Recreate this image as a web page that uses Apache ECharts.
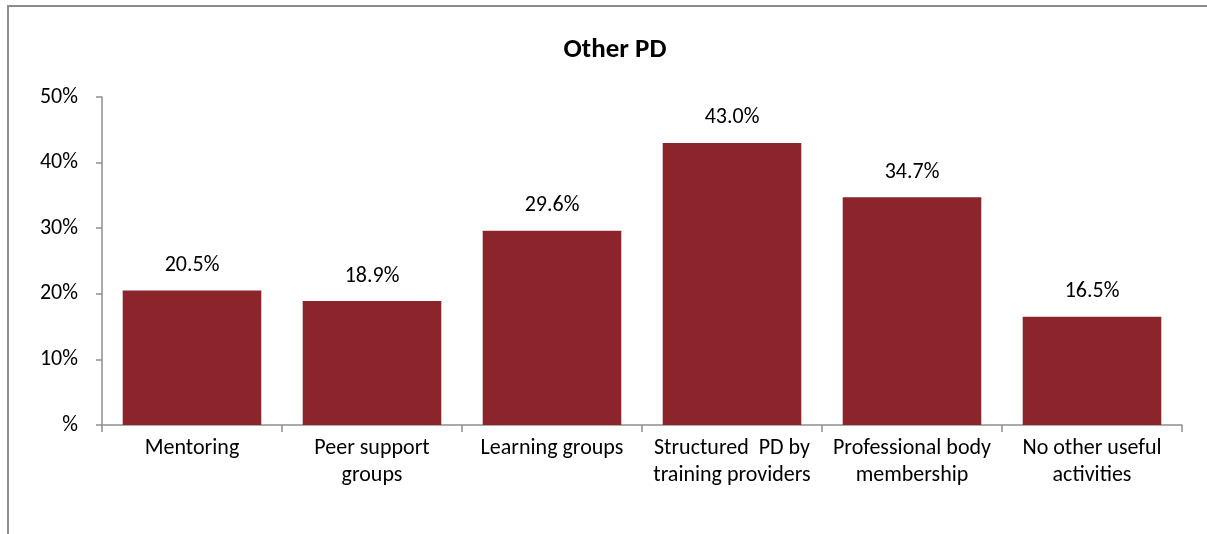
<!DOCTYPE html>
<html>
<head>
<meta charset="utf-8">
<script src="https://cdn.jsdelivr.net/npm/echarts@6/dist/echarts.min.js"></script>
<style>
html,body{margin:0;padding:0;background:#fff;}
#chart{width:1207px;height:534px;}
</style>
</head>
<body>
<div id="chart"></div>
<script>
const titleText = 'Other PD';
const categories = ['Mentoring', 'Peer support\ngroups', 'Learning groups', 'Structured  PD by\ntraining providers', 'Professional body\nmembership', 'No other useful\nactivities'];
const values = [20.5, 18.9, 29.6, 43.0, 34.7, 16.5];
const yTicks = [0, 10, 20, 30, 40, 50];

const FONT = 'Carlito, Lato, "Open Sans", sans-serif';
const chart = echarts.init(document.getElementById('chart'));
chart.setOption({
  animation: false,
  backgroundColor: '#fff',
  title: {
    text: titleText,
    left: 610,
    top: 32,
    textAlign: 'center',
    textStyle: {fontFamily: FONT, fontWeight: 'bold', fontSize: 27, color: '#000'}
  },
  graphic: [{
    type: 'rect',
    shape: {x: 8, y: 6, width: 1260, height: 600},
    style: {fill: 'none', stroke: '#8c8c8c', lineWidth: 2},
    silent: true
  }],
  grid: {left: 102, right: 25, top: 97, bottom: 109},
  xAxis: {
    type: 'category',
    data: categories,
    axisLine: {lineStyle: {color: '#8e8e8e', width: 1.5}},
    axisTick: {show: true, length: 7, lineStyle: {color: '#8e8e8e', width: 1.5}},
    axisLabel: {interval: 0, margin: 10, fontFamily: FONT, fontSize: 22, color: '#000', lineHeight: 27}
  },
  yAxis: {
    type: 'value',
    min: yTicks[0],
    max: yTicks[yTicks.length - 1],
    interval: 10,
    splitLine: {show: false},
    axisLine: {show: true, lineStyle: {color: '#8e8e8e', width: 1.5}},
    axisTick: {show: true, length: 6, lineStyle: {color: '#8e8e8e', width: 1.5}},
    axisLabel: {
      margin: 24,
      fontFamily: FONT, fontSize: 22, color: '#000',
      formatter: v => v === 0 ? '%' : v + '%'
    }
  },
  series: [{
    type: 'bar',
    data: values,
    barCategoryGap: '23%',
    itemStyle: {color: '#8B252B'},
    label: {
      show: true,
      position: 'top',
      distance: 14,
      fontFamily: FONT, fontSize: 22, color: '#000',
      formatter: p => p.value.toFixed(1) + '%'
    }
  }]
});
</script>
</body>
</html>
